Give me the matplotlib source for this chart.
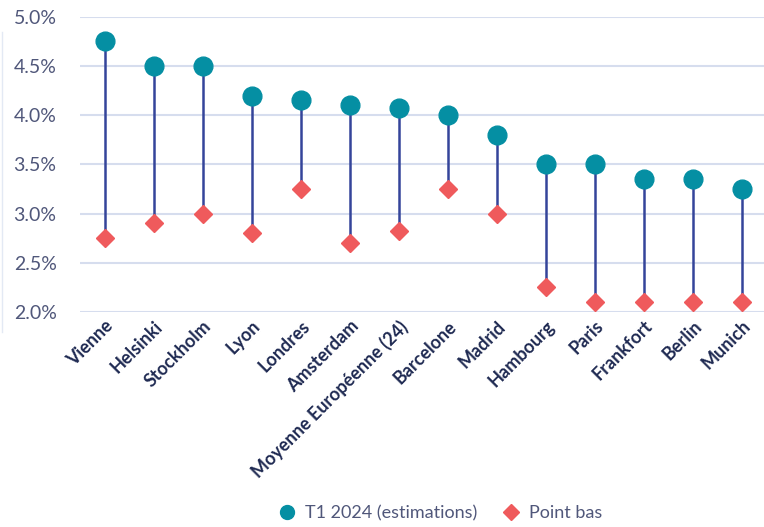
import matplotlib.pyplot as plt
from matplotlib.ticker import FuncFormatter
from matplotlib.lines import Line2D

villes = ["Vienne", "Helsinki", "Stockholm", "Lyon", "Londres", "Amsterdam",
          "Moyenne Européenne (24)", "Barcelone", "Madrid", "Hambourg", "Paris",
          "Frankfort", "Berlin", "Munich"]
t1_2024 = [4.75, 4.5, 4.5, 4.2, 4.15, 4.1, 4.07, 4.0, 3.8, 3.5, 3.5, 3.35, 3.35, 3.25]
point_bas = [2.75, 2.9, 3.0, 2.8, 3.25, 2.7, 2.82, 3.25, 3.0, 2.25, 2.1, 2.1, 2.1, 2.1]

teal = "#058fa3"
rouge = "#ef5a5c"
marine = "#34449a"
grille = "#d6ddee"

plt.rcParams['font.family'] = ['Lato', 'DejaVu Sans']

fig = plt.figure(figsize=(7.64, 5.27), dpi=100)
ax = fig.add_axes([0.105, 0.408, 0.895, 0.56])

x = list(range(len(villes)))
ax.vlines(x, point_bas, t1_2024, color=marine, lw=1.8, zorder=2)
ax.plot(x, t1_2024, 'o', color=teal, markersize=13.5, zorder=3, clip_on=False)
ax.plot(x, point_bas, 'D', color=rouge, markersize=9.5, zorder=3, clip_on=False)

ax.set_ylim(2.0, 5.0)
ax.set_xlim(-0.5, 13.45)
ax.set_yticks([2.0, 2.5, 3.0, 3.5, 4.0, 4.5, 5.0])
ax.yaxis.set_major_formatter(FuncFormatter(lambda v, _: f"{v:.1f}%"))
ax.grid(axis='y', color=grille, lw=1.5)
ax.set_axisbelow(True)
for s in ax.spines.values():
    s.set_visible(False)
ax.tick_params(axis='y', length=0, pad=17, labelsize=14, labelcolor="#50577a")
ax.tick_params(axis='x', length=0, pad=4)
ax.set_xticks(x)
ax.set_xticklabels(villes, rotation=45, ha='right', rotation_mode='anchor',
                   fontsize=13, fontweight='bold', color="#1f2a52")

fig.add_artist(Line2D([0.003, 0.003], [0.37, 0.94], color="#e3e9f4", lw=1))

handles = [Line2D([], [], marker='o', ls='', color=teal, markersize=10),
           Line2D([], [], marker='D', ls='', color=rouge, markersize=8)]
fig.legend(handles, ["T1 2024 (estimations)", "Point bas"], loc='lower center',
           bbox_to_anchor=(0.57, -0.02), ncol=2, frameon=False, fontsize=13,
           labelcolor="#50577a", handletextpad=0.0, columnspacing=0.9)

fig.savefig("out.png", dpi=100)
